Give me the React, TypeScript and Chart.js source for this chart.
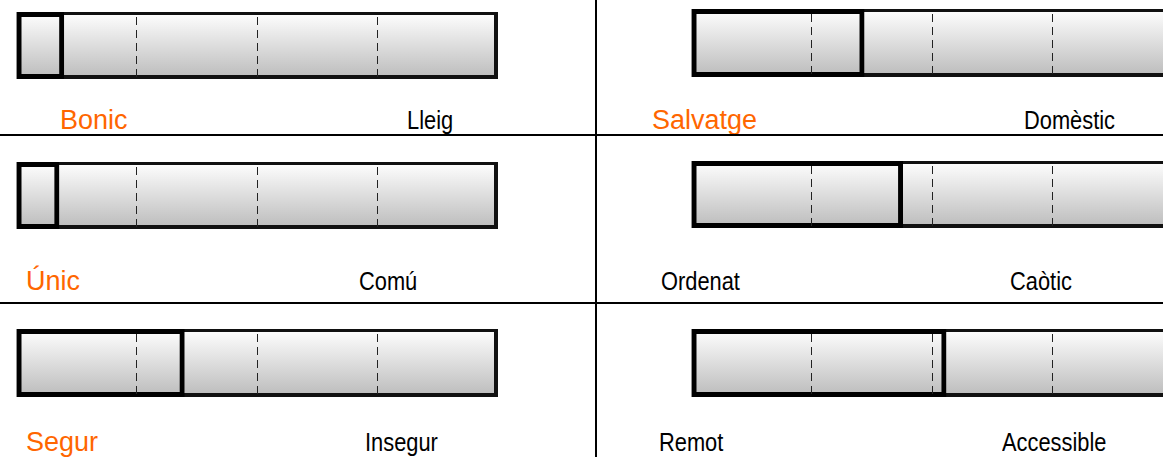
import React, { useEffect, useRef } from "react";
import { Chart, registerables } from "chart.js";

Chart.register(...registerables);

// ---- data (row-major: row 1 left, row 1 right, row 2 left, ...) ----
const leftPoles = ["Bonic", "Salvatge", "Únic", "Ordenat", "Segur", "Remot"];
const rightPoles = ["Lleig", "Domèstic", "Comú", "Caòtic", "Insegur", "Accessible"];
const scores = [10, 36, 9, 44, 35, 53];
const leftHighlighted = [true, true, true, false, true, false];
const scaleTicks = [0, 25, 50, 75, 100];
const scaleMax = 100;

// ---- layout ----
const BOXES = [
  { x: 16, y: 12, w: 482, h: 67 },
  { x: 691, y: 9, w: 482, h: 68 },
  { x: 16, y: 162, w: 482, h: 67 },
  { x: 691, y: 161, w: 482, h: 67 },
  { x: 16, y: 329, w: 482, h: 68 },
  { x: 691, y: 329, w: 482, h: 68 },
];
// [left label x, right label x, baseline y]
const LABEL_POS = [
  [60, 407, 130],
  [652, 1024, 130],
  [26, 359, 291],
  [661, 1010, 291],
  [26, 365, 452],
  [659, 1002, 452],
];

const ORANGE = "#ff6600";

function Panel({ index }: { index: number }) {
  const ref = useRef<HTMLCanvasElement | null>(null);
  const box = BOXES[index];
  useEffect(() => {
    if (!ref.current) return;
    const gradient = (c: any) => {
      const chart = c.chart;
      const a = chart.chartArea;
      if (!a) return "#dddddd";
      const g = chart.ctx.createLinearGradient(0, a.top, 0, a.bottom);
      g.addColorStop(0, "#ffffff");
      g.addColorStop(1, "#bbbbbb");
      return g;
    };
    const chart = new Chart(ref.current, {
      type: "bar",
      data: {
        labels: [leftPoles[index]],
        datasets: [
          {
            data: [scores[index]],
            backgroundColor: "rgba(0,0,0,0)",
            borderColor: "#000000",
            borderWidth: 5,
            borderSkipped: false,
            grouped: false,
            barPercentage: 1,
            categoryPercentage: 1,
            inflateAmount: 0,
          } as any,
          {
            data: [scaleMax],
            backgroundColor: gradient,
            borderColor: "#111111",
            borderWidth: { top: 3, left: 4, bottom: 4, right: 4 },
            borderSkipped: false,
            grouped: false,
            barPercentage: 1,
            categoryPercentage: 1,
            inflateAmount: 0,
          } as any,
        ],
      },
      options: {
        indexAxis: "y",
        responsive: false,
        animation: false,
        events: [],
        layout: { padding: 0 },
        plugins: { legend: { display: false }, tooltip: { enabled: false } },
        scales: {
          x: {
            min: 0,
            max: scaleMax,
            afterBuildTicks: (axis: any) => {
              axis.ticks = scaleTicks.map((v) => ({ value: v }));
            },
            ticks: { display: false },
            grid: {
              z: 1,
              drawTicks: false,
              lineWidth: 1,
              color: (c: any) =>
                c.tick && c.tick.value > 0 && c.tick.value < scaleMax
                  ? "#222222"
                  : "rgba(0,0,0,0)",
            },
            border: { display: false, dash: [8, 5], dashOffset: 8 },
          },
          y: { display: false },
        },
      } as any,
    });
    return () => chart.destroy();
  }, [index]);

  return (
    <canvas
      ref={ref}
      width={box.w}
      height={box.h}
      style={{
        position: "absolute",
        left: box.x,
        top: box.y,
        width: box.w,
        height: box.h,
      }}
    />
  );
}

function Label({ text, x, baseline, color, narrow }: any) {
  return (
    <span
      style={{
        position: "absolute",
        left: x,
        top: baseline - 23,
        fontFamily: '"Liberation Sans", Arial, sans-serif',
        fontSize: narrow ? 26 : 27,
        lineHeight: "27px",
        color,
        whiteSpace: "nowrap",
        transform: narrow ? "scaleX(0.84)" : undefined,
        transformOrigin: "left center",
      }}
    >
      {text}
    </span>
  );
}

export default function App() {
  return (
    <div
      style={{
        position: "absolute",
        left: 0,
        top: 0,
        width: 1163,
        height: 457,
        overflow: "hidden",
        background: "#ffffff",
      }}
    >
      {BOXES.map((_, i) => (
        <Panel key={"p" + i} index={i} />
      ))}
      {LABEL_POS.map((p, i) => (
        <React.Fragment key={"l" + i}>
          <Label
            text={leftPoles[i]}
            x={p[0]}
            baseline={p[2]}
            color={leftHighlighted[i] ? ORANGE : "#000000"}
            narrow={!leftHighlighted[i]}
          />
          <Label text={rightPoles[i]} x={p[1]} baseline={p[2]} color="#000000" narrow />
        </React.Fragment>
      ))}
      <div style={{ position: "absolute", left: 0, top: 134, width: 1163, height: 2, background: "#000" }} />
      <div style={{ position: "absolute", left: 0, top: 302, width: 1163, height: 2, background: "#000" }} />
      <div style={{ position: "absolute", left: 595, top: 0, width: 2, height: 457, background: "#000" }} />
    </div>
  );
}
